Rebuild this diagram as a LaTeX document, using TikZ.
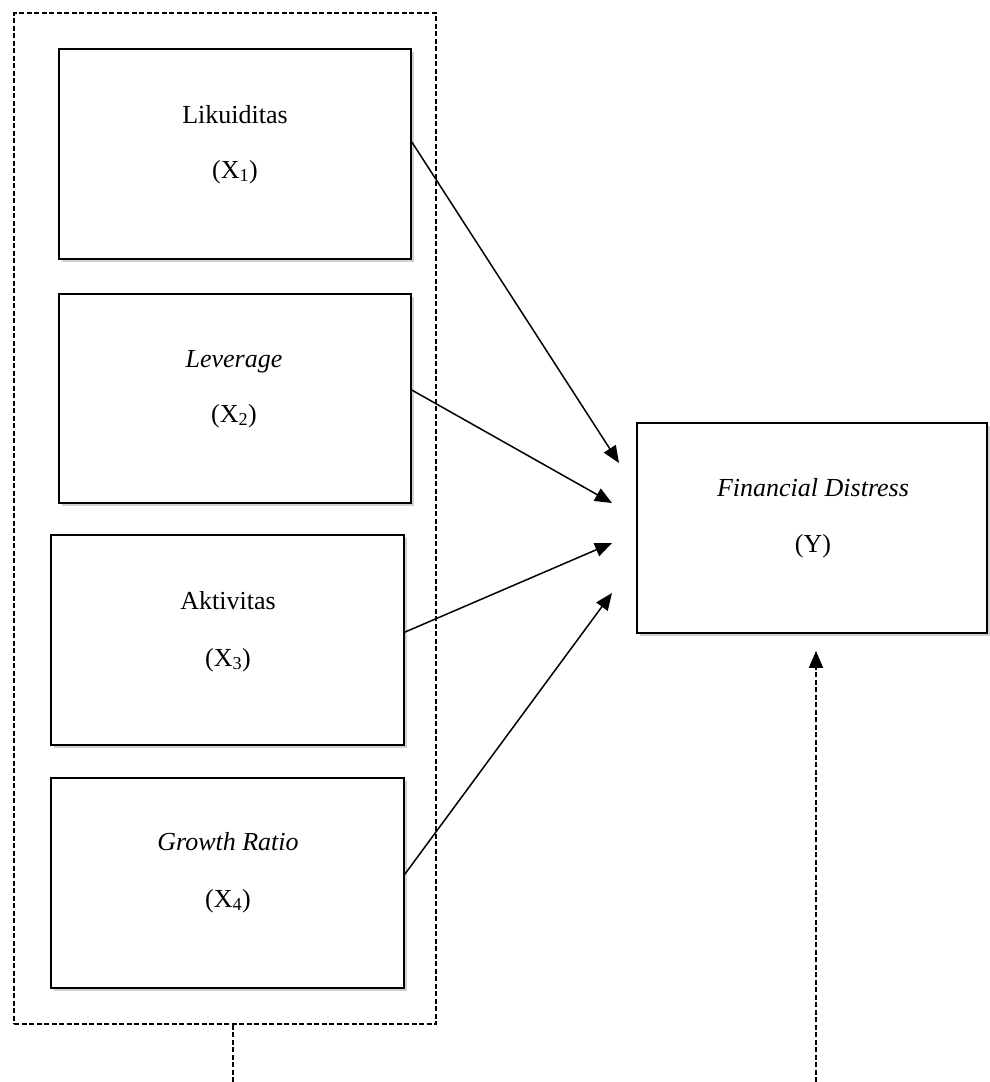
\documentclass[tikz,border=0pt]{standalone}
\usepackage{fontspec}
\setmainfont{Liberation Serif}
\usetikzlibrary{arrows.meta,calc,shadows}
\begin{document}
\begin{tikzpicture}[x=1pt,y=-1pt,
  varbox/.style={draw,line width=1.8pt,fill=white,minimum width=352pt,minimum height=210pt,inner sep=0pt,
    drop shadow={shadow xshift=2.5pt,shadow yshift=-2.5pt,opacity=.3,fill=black!60}},
  lbl/.style={font=\fontsize{26}{31}\selectfont,inner sep=0pt,anchor=base},
  grpbox/.style={draw,dash pattern=on 5pt off 2.5pt,line width=1.6pt,minimum width=422pt,minimum height=1011pt,inner sep=0pt},
  dline/.style={dash pattern=on 5pt off 2.5pt,line width=1.6pt},
  arr/.style={line width=1.5pt,-{Triangle[length=17pt,width=14pt]}}
]
\useasboundingbox (0,0) rectangle (989,1082);
\node[grpbox] (grp) at (225,518.5) {};
\node[varbox] (b1) at (235,154) {};
\node[varbox,minimum height=209pt] (b2) at (235,398.5) {};
\node[varbox,minimum width=353pt] (b3) at (227.5,640) {};
\node[varbox,minimum width=353pt] (b4) at (227.5,883) {};
\node[varbox,minimum width=350pt] (by) at (812,528) {};
% labels
\node[lbl] (t1a) at (235,123) {Likuiditas};
\node[lbl] (t1b) at (235,178) {(X\textsubscript{1})};
\node[lbl] (t2a) at (234,367) {\itshape Leverage};
\node[lbl] (t2b) at (234,422) {(X\textsubscript{2})};
\node[lbl] (t3a) at (228,609) {Aktivitas};
\node[lbl] (t3b) at (228,666) {(X\textsubscript{3})};
\node[lbl] (t4a) at (228,850) {\itshape Growth Ratio};
\node[lbl] (t4b) at (228,907) {(X\textsubscript{4})};
\node[lbl] (tya) at (813,496) {\itshape Financial Distress};
\node[lbl] (tyb) at (813,552) {(Y)};
% arrow targets
\coordinate (e1) at (619,463);
\coordinate (e2) at (612,503);
\coordinate (e3) at (612,543);
\coordinate (e4) at (612,593);
\draw[arr] ($(b1.north east)+(0,94)$) -- (e1);
\draw[arr] ($(b2.north east)+(0,97)$) -- (e2);
\draw[arr] ($(b3.north east)+(0,98)$) -- (e3);
\draw[arr] ($(b4.north east)+(0,97)$) -- (e4);
% bottom dashed lines
\coordinate (g0) at ($(grp.south)+(8,0)$);
\coordinate (g1) at (233,1082);
\draw[dline] (g0) -- (g1);
\coordinate (y0) at (816,1082);
\draw[dline,-{Triangle[length=17pt,width=14pt]}] (y0) -- ($(by.south)+(4,17)$);
\end{tikzpicture}
\end{document}
